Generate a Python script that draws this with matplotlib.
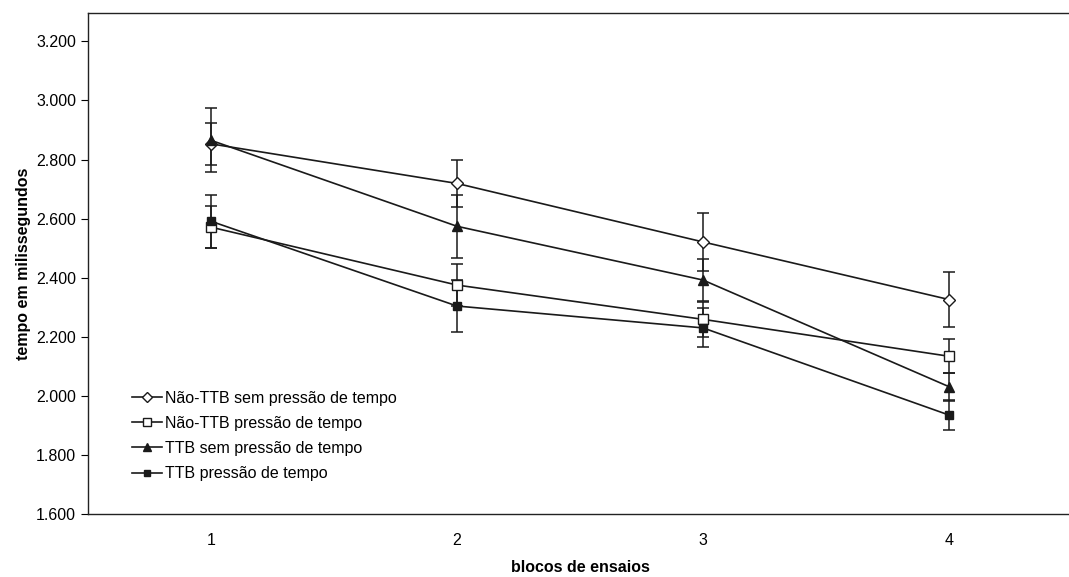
import matplotlib.pyplot as plt
from matplotlib.ticker import FuncFormatter

# data
blocos = [1, 2, 3, 4]
nao_ttb_sem = [2853, 2719, 2521, 2326]
nao_ttb_sem_err = [72, 80, 98, 93]
nao_ttb_com = [2571, 2375, 2259, 2134]
nao_ttb_com_err = [70, 70, 60, 58]
ttb_sem = [2865, 2574, 2392, 2031]
ttb_sem_err = [108, 106, 72, 47]
ttb_com = [2591, 2304, 2230, 1935]
ttb_com_err = [90, 87, 66, 51]

labels = [
    "Não-TTB sem pressão de tempo",
    "Não-TTB pressão de tempo",
    "TTB sem pressão de tempo",
    "TTB pressão de tempo",
]

plt.rcParams["font.family"] = ["Liberation Sans", "DejaVu Sans"]

fig = plt.figure(figsize=(10.69, 5.77), dpi=100)
ax = fig.add_axes([88 / 1069, 63 / 577, 984 / 1069, 501 / 577])

lineColor = "#1a1a1a"
styles = [
    (nao_ttb_sem, nao_ttb_sem_err, dict(marker="D", ms=6.5, mfc="white")),
    (nao_ttb_com, nao_ttb_com_err, dict(marker="s", ms=7.5, mfc="white")),
    (ttb_sem, ttb_sem_err, dict(marker="^", ms=7.5, mfc=lineColor)),
    (ttb_com, ttb_com_err, dict(marker="s", ms=6, mfc=lineColor)),
]
handles = []
for (vals, errs, st), label in zip(styles, labels):
    cont = ax.errorbar(
        blocos,
        vals,
        yerr=errs,
        color=lineColor,
        mec=lineColor,
        lw=1.2,
        elinewidth=1.1,
        capsize=4,
        capthick=1.1,
        label=label,
        **st,
    )
    handles.append(cont[0])

ax.set_xlim(0.5, 4.5)
ax.set_ylim(1600, 3296)
ax.set_yticks(range(1600, 3201, 200))
ax.yaxis.set_major_formatter(FuncFormatter(lambda v, p: f"{int(v):,}".replace(",", ".")))
ax.set_xticks(blocos)
ax.tick_params(axis="x", length=0, pad=14, labelsize=11.5)
ax.tick_params(axis="y", direction="out", length=5, labelsize=11.5)
ax.spines["right"].set_visible(False)
for s in ["left", "bottom", "top"]:
    ax.spines[s].set_linewidth(1.0)
    ax.spines[s].set_color("#222222")

ax.set_ylabel("tempo em milissegundos", fontsize=11.5, fontweight="bold", labelpad=4)
ax.set_xlabel("blocos de ensaios", fontsize=11.5, fontweight="bold", labelpad=8)

leg = ax.legend(
    handles=handles,
    labels=labels,
    loc="upper left",
    bbox_to_anchor=(0.03, 0.275),
    frameon=False,
    fontsize=11.5,
    handlelength=1.9,
    handletextpad=0.2,
    labelspacing=0.64,
    markerscale=0.75,
)

plt.savefig("out.png", dpi=100)
